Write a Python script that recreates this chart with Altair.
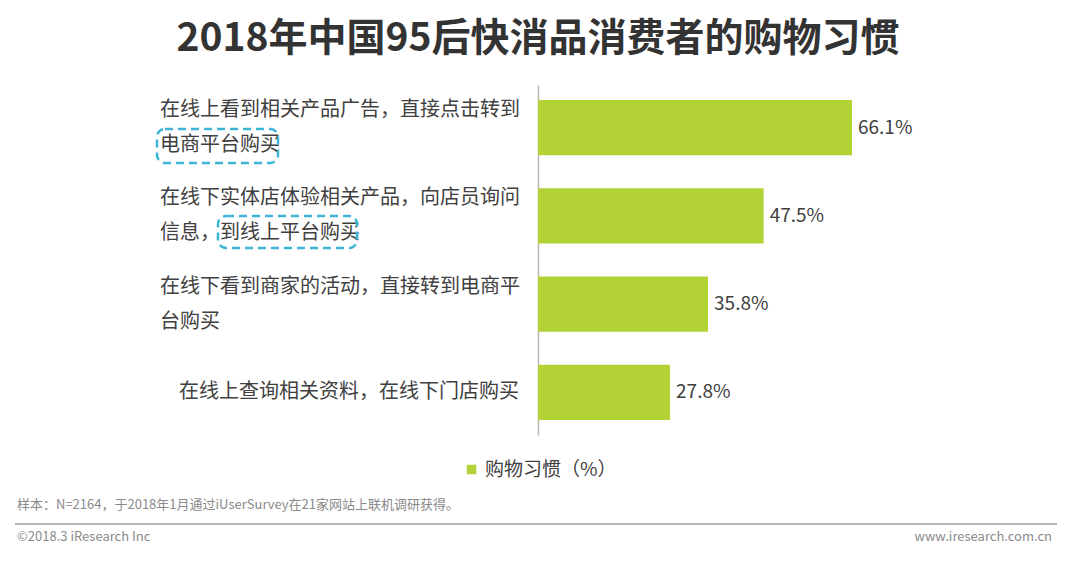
import altair as alt
import pandas as pd

FONT = "Noto Sans CJK SC"

# ---- data ----
line1 = ["在线上看到相关产品广告，直接点击转到",
         "在线下实体店体验相关产品，向店员询问",
         "在线下看到商家的活动，直接转到电商平",
         "在线上查询相关资料，在线下门店购买"]
line2 = ["电商平台购买", "信息，到线上平台购买", "台购买", ""]
values = [66.1, 47.5, 35.8, 27.8]
series_name = "购物习惯（%）"
title_text = "2018年中国95后快消品消费者的购物习惯"
note_text = "样本：N=2164，于2018年1月通过iUserSurvey在21家网站上联机调研获得。"
copyright_text = "©2018.3 iResearch Inc"
site_text = "www.iresearch.com.cn"

cats = [a + b for a, b in zip(line1, line2)]
df = pd.DataFrame({"cat": cats, "l1": line1, "l2": line2, "value": values,
                   "series": [series_name] * len(cats)})
df["label"] = df["value"].map(lambda v: f"{v:.1f}%")
multi = df[df["l2"] != ""]
single = df[df["l2"] == ""]

GREEN = "#b2d236"
TXT = "#404040"

y_enc = alt.Y("cat:N", sort=cats, title=None,
              scale=alt.Scale(paddingInner=0.375, paddingOuter=0.17),
              axis=alt.Axis(labels=False, ticks=False, grid=False,
                            domainColor="#b8b8b8", domainWidth=1.5))
x_enc = alt.X("value:Q", scale=alt.Scale(domain=[0, 100]), axis=None)

bars = alt.Chart(df).mark_bar().encode(
    x=x_enc, y=y_enc,
    color=alt.Color("series:N", scale=alt.Scale(range=[GREEN]),
                    legend=alt.Legend(title=None, orient="none", legendX=-76, legendY=375,
                                      symbolType="square", symbolSize=90,
                                      labelFont=FONT, labelFontSize=19, labelColor=TXT,
                                      symbolStrokeWidth=0))
)

vals = alt.Chart(df).mark_text(align="left", dx=6, font=FONT, fontSize=19, color=TXT).encode(
    x=x_enc, y=y_enc, text="label:N")

lab1 = alt.Chart(multi).mark_text(align="left", dy=-17.5, font=FONT, fontSize=20, color=TXT).encode(
    x=alt.value(-378), y=y_enc, text="l1:N")
lab2 = alt.Chart(multi).mark_text(align="left", dy=17.5, font=FONT, fontSize=20, color=TXT).encode(
    x=alt.value(-378), y=y_enc, text="l2:N")
lab_single = alt.Chart(single).mark_text(align="right", font=FONT, fontSize=20, color=TXT).encode(
    x=alt.value(-19), y=y_enc, text="l1:N")

one = alt.Data(values=[{}])

def box(x0, x1, y0, y1):
    return alt.Chart(one).mark_rect(fillOpacity=0, stroke="#3db5d6", strokeWidth=2.5,
                                    strokeDash=[8, 5], cornerRadius=8).encode(
        x=alt.value(x0), x2=alt.value(x1), y=alt.value(y0), y2=alt.value(y1))

box1 = box(-381, -260, 44, 78)
box2 = box(-320, -181, 131, 163)

title = alt.Chart(one).mark_text(text=title_text, font=FONT, fontSize=39, fontWeight="bold",
                                 color="#333333", align="center", baseline="middle").encode(
    x=alt.value(0), y=alt.value(-46))

note = alt.Chart(one).mark_text(text=note_text, font=FONT, fontSize=13, color="#8a8a8a",
                                align="left", baseline="middle").encode(
    x=alt.value(-521), y=alt.value(420))

rule = alt.Chart(one).mark_rule(color="#9a9a9a", strokeWidth=1.5).encode(
    x=alt.value(-523), x2=alt.value(519), y=alt.value(439))

copy = alt.Chart(one).mark_text(text=copyright_text, font=FONT, fontSize=13, color="#8a8a8a",
                                align="left", baseline="middle").encode(
    x=alt.value(-521), y=alt.value(452))
site = alt.Chart(one).mark_text(text=site_text, font=FONT, fontSize=13, color="#8a8a8a",
                                align="right", baseline="middle").encode(
    x=alt.value(514), y=alt.value(452))

chart = alt.layer(bars, vals, lab1, lab2, lab_single, box1, box2, title, note, rule, copy, site).properties(
    width=475, height=350,
    autosize=alt.AutoSizeParams(type="none"),
    padding={"left": 530, "top": 77, "right": 59, "bottom": 124},
).configure(background="white").configure_view(strokeWidth=0, stroke=None)

chart.save("out.html", embed_options={"renderer": "svg", "actions": False})
